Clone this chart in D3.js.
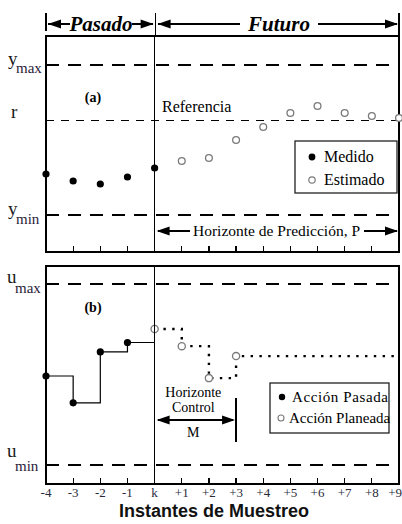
<!DOCTYPE html>
<html><head><meta charset="utf-8">
<script src="https://cdn.jsdelivr.net/npm/d3@7"></script>
<style>
html,body{margin:0;padding:0;background:#fff}
.serif{font-family:"Liberation Serif","Times New Roman",Times,serif}
.sans{font-family:"Liberation Sans",Arial,Helvetica,sans-serif}
line{shape-rendering:crispEdges}
</style>
</head><body>
<svg id="chart" width="402" height="524"></svg>
<script>
// Sampling instants and their axis labels
const instants = [-4, -3, -2, -1, 0, 1, 2, 3, 4, 5, 6, 7, 8, 9];
const tickLabels = ["-4", "-3", "-2", "-1", "k", "+1", "+2", "+3", "+4", "+5", "+6", "+7", "+8", "+9"];

// Output panel (a): limits, reference, measured and estimated output
const outputLimits = [2, 8];      // y_min, y_max
const reference = [5.8];          // r
const measuredK = [-4, -3, -2, -1, 0];
const measuredY = [3.64, 3.36, 3.24, 3.52, 3.88];
const estimatedK = [1, 2, 3, 4, 5, 6, 7, 8, 9];
const estimatedY = [4.16, 4.28, 5.0, 5.52, 6.08, 6.36, 6.08, 5.96, 5.88];

// Input panel (b): limits, past and planned control actions
const inputLimits = [2, 8];       // u_min, u_max
const pastK = [-4, -3, -2, -1];
const pastU = [4.95, 4.06, 5.75, 6.06];
const plannedK = [0, 1, 2, 3];
const plannedU = [6.51, 5.94, 4.88, 5.61];

// Horizons (in samples after k)
const horizons = [9, 3];          // prediction P, control M

const svg = d3.select("#chart");
const W = 402;

const L = 46, R = 399;
const panelA = {top: 36, bottom: 252};
const panelB = {top: 266, bottom: 484};

const x = d3.scaleLinear().domain(d3.extent(instants)).range([L, R]);
const yA = d3.scaleLinear().domain(outputLimits).range([215, 65]);
const yB = d3.scaleLinear().domain(inputLimits).range([465, 284]);

function stext(g, xx, yy, s, size) {
  return g.append("text").attr("class", "serif").attr("x", xx).attr("y", yy)
    .attr("font-size", size).text(s);
}

// Filled triangular arrow head with its tip at (tx, ty), pointing dir (+1 right, -1 left)
function head(g, tx, ty, dir) {
  const len = 13, hw = 4.5;
  g.append("path")
    .attr("d", `M${tx},${ty} L${tx - dir * len},${ty - hw} L${tx - dir * len},${ty + hw} Z`)
    .attr("fill", "#000");
}
function hline(g, x1, x2, y, w) {
  g.append("line").attr("x1", x1).attr("x2", x2).attr("y1", y).attr("y2", y)
    .attr("stroke", "#000").attr("stroke-width", w || 1.3);
}
function vline(g, xx, y1, y2, w) {
  g.append("line").attr("x1", xx).attr("x2", xx).attr("y1", y1).attr("y2", y2)
    .attr("stroke", "#000").attr("stroke-width", w || 1.3);
}

// ---------- Header: Pasado / Futuro ----------
const hdr = svg.append("g");
const hy = 24;
vline(hdr, x(-4), 13, 31, 1.3);
vline(hdr, x(0) + 1, 13, panelA.top, 1.3);
vline(hdr, x(9), 13, panelA.top, 1.3);
hline(hdr, x(-4) + 2, 70, hy, 1.3); head(hdr, x(-4) + 2, hy, -1);
hline(hdr, 132, x(0) - 2, hy, 1.3); head(hdr, x(0) - 1, hy, 1);
stext(hdr, 101, hy + 7, "Pasado", 21).attr("text-anchor", "middle")
  .attr("font-weight", "bold").attr("font-style", "italic");
hline(hdr, x(0) + 3, 240, hy, 1.3); head(hdr, x(0) + 3, hy, -1);
hline(hdr, 318, x(9) - 2, hy, 1.3); head(hdr, x(9) - 1, hy, 1);
stext(hdr, 279, hy + 7, "Futuro", 21).attr("text-anchor", "middle")
  .attr("font-weight", "bold").attr("font-style", "italic");

// ---------- Panel frames, ticks, k line ----------
function frame(p) {
  const g = svg.append("g");
  // ticks at interior sampling instants, drawn inward from the bottom edge
  instants.slice(1, -1).forEach(k => vline(g, x(k), p.bottom - 6, p.bottom, 1.2));
  vline(g, x(0), p.top, p.bottom, 1.2);
  g.append("rect").attr("x", L).attr("y", p.top).attr("width", R - L).attr("height", p.bottom - p.top)
    .attr("fill", "none").attr("stroke", "#000").attr("stroke-width", 2);
  return g;
}

function dashed(g, y, w, dash) {
  g.append("line").attr("x1", L).attr("x2", R).attr("y1", y).attr("y2", y)
    .attr("stroke", "#000").attr("stroke-width", w).attr("stroke-dasharray", dash);
}

function limitLabel(main, sub, xMain, yMain, ySub) {
  stext(svg, xMain, yMain, main, 19).attr("fill", "#1a1a1a");
  stext(svg, xMain + 8, ySub, sub, 15).attr("fill", "#2a2238");
}

// ---------- Panel (a) ----------
const gA = svg.append("g");
dashed(gA, yA(outputLimits[1]), 2, "13,9");
dashed(gA, yA(outputLimits[0]), 2, "13,9");
dashed(gA, yA(reference[0]), 1, "8,7");
frame(panelA);

stext(gA, 93, 102, "(a)", 14).attr("text-anchor", "middle").attr("font-weight", "bold");
stext(gA, 162, 112, "Referencia", 16);

const pA = svg.append("g");
pA.selectAll("circle.med").data(measuredK.map((k, i) => [k, measuredY[i]])).join("circle")
  .attr("class", "med").attr("cx", d => x(d[0])).attr("cy", d => yA(d[1])).attr("r", 3.6).attr("fill", "#000");
pA.selectAll("circle.est").data(estimatedK.map((k, i) => [k, estimatedY[i]])).join("circle")
  .attr("class", "est").attr("cx", d => x(d[0])).attr("cy", d => yA(d[1])).attr("r", 3.4)
  .attr("fill", "#fff").attr("stroke", "#7a7a7a").attr("stroke-width", 1.3);

limitLabel("y", "max", 8, 65, 73);
limitLabel("y", "min", 8, 215, 224);
stext(svg, 11, 118, "r", 19).attr("fill", "#1a1a1a");

// prediction horizon
const ph = svg.append("g");
const phy = 231;
hline(ph, x(0) + 3, 190, phy, 1.3); head(ph, x(0) + 2, phy, -1);
stext(ph, 193, phy + 5, "Horizonte de Predicción, P", 15.5);
hline(ph, 364, x(horizons[0]) - 2, phy, 1.3); head(ph, x(horizons[0]) - 1, phy, 1);

// legend (a)
const lgA = svg.append("g");
lgA.append("rect").attr("x", 295).attr("y", 141).attr("width", 102).attr("height", 52)
  .attr("fill", "#fff").attr("stroke", "#222").attr("stroke-width", 1.3);
lgA.append("circle").attr("cx", 312).attr("cy", 157).attr("r", 3.4).attr("fill", "#000");
stext(lgA, 324, 162, "Medido", 16);
lgA.append("circle").attr("cx", 312).attr("cy", 180).attr("r", 3.2).attr("fill", "#fff")
  .attr("stroke", "#7a7a7a").attr("stroke-width", 1.2);
stext(lgA, 324, 185, "Estimado", 16);

// ---------- Panel (b) ----------
const gB = svg.append("g");
dashed(gB, yB(inputLimits[1]), 2, "13,9");
dashed(gB, yB(inputLimits[0]), 2, "13,9");
frame(panelB);

stext(gB, 93, 312, "(b)", 14).attr("text-anchor", "middle").attr("font-weight", "bold");

const step = d3.line().x(d => x(d[0])).y(d => yB(d[1])).curve(d3.curveStepAfter);

// past actions, held until instant k
const pastPts = pastK.map((k, i) => [k, pastU[i]]);
gB.append("path").attr("d", step(pastPts.concat([[0, pastU[pastU.length - 1]]])))
  .attr("fill", "none").attr("stroke", "#000").attr("stroke-width", 1.2);

// planned actions, held constant beyond the control horizon
const planPts = plannedK.map((k, i) => [k, plannedU[i]]);
gB.append("path").attr("d", step(planPts.concat([[horizons[0], plannedU[plannedU.length - 1]]])))
  .attr("fill", "none").attr("stroke", "#000").attr("stroke-width", 2.4).attr("stroke-dasharray", "2.4,6.4");

gB.selectAll("circle.past").data(pastPts).join("circle")
  .attr("class", "past").attr("cx", d => x(d[0])).attr("cy", d => yB(d[1])).attr("r", 3.6).attr("fill", "#000");
gB.selectAll("circle.plan").data(planPts).join("circle")
  .attr("class", "plan").attr("cx", d => x(d[0])).attr("cy", d => yB(d[1])).attr("r", 3.6)
  .attr("fill", "#fff").attr("stroke", "#7a7a7a").attr("stroke-width", 1.3);

limitLabel("u", "max", 7, 283, 293);
limitLabel("u", "min", 7, 457, 471);

// control horizon
const ch = svg.append("g");
const chy = 420;
const cx0 = x(0), cx1 = x(horizons[1]);
hline(ch, cx0 + 3, cx1 - 3, chy, 1.3);
head(ch, cx0 + 2, chy, -1); head(ch, cx1 - 1, chy, 1);
vline(ch, cx1, 398, 442, 1.3);
const cmid = (cx0 + cx1) / 2 - 2;
[["Horizonte", 397], ["Control", 412], ["M", 437]].forEach(([s, yy]) =>
  stext(ch, cmid, yy, s, 14).attr("text-anchor", "middle"));

// legend (b)
const lgB = svg.append("g");
lgB.append("rect").attr("x", 270).attr("y", 383).attr("width", 119).attr("height", 50)
  .attr("fill", "#fff").attr("stroke", "#222").attr("stroke-width", 1.3);
lgB.append("circle").attr("cx", 282).attr("cy", 397).attr("r", 3.2).attr("fill", "#000");
stext(lgB, 292, 402, "Acción Pasada", 15).attr("letter-spacing", 0.6);
lgB.append("circle").attr("cx", 281).attr("cy", 418).attr("r", 3).attr("fill", "#fff")
  .attr("stroke", "#7a7a7a").attr("stroke-width", 1.1);
stext(lgB, 289, 423, "Acción Planeada", 15);

// ---------- x axis labels and title ----------
const ax = svg.append("g");
ax.selectAll("text").data(instants).join("text")
  .attr("class", "serif")
  .attr("x", (d, i) => i === instants.length - 1 ? W : x(d))
  .attr("text-anchor", (d, i) => i === instants.length - 1 ? "end" : "middle")
  .attr("y", 497).attr("font-size", 13).attr("fill", "#2a2a3a")
  .text((d, i) => tickLabels[i]);

svg.append("text").attr("class", "sans").attr("x", 214).attr("y", 517).attr("text-anchor", "middle")
  .attr("font-size", 18).attr("font-weight", "bold")
  .attr("fill", "#111").text("Instantes de Muestreo");
</script>
</body></html>
